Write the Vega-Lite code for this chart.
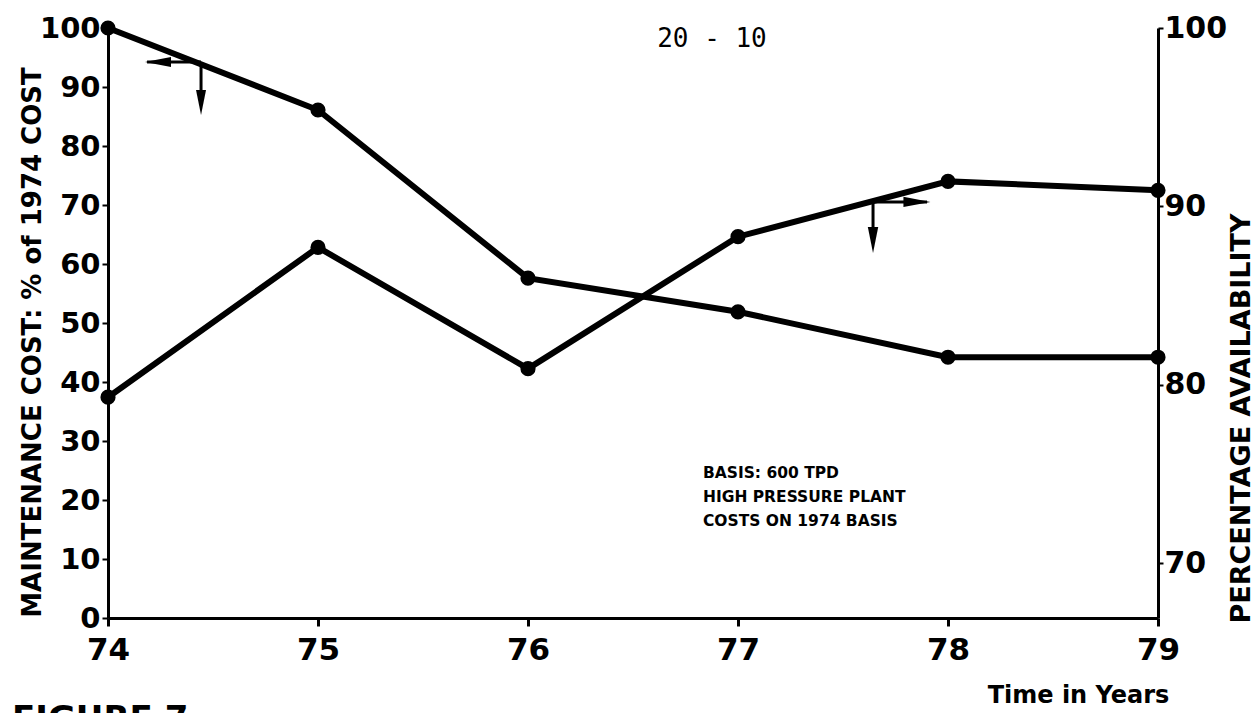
{
  "$schema": "https://vega.github.io/schema/vega-lite/v6.json",
  "width": 1050,
  "height": 590,
  "autosize": {"type": "none"},
  "padding": {"left": 108, "top": 28, "right": 98, "bottom": 95},
  "background": "white",
  "config": {"view": {"stroke": null}, "font": "DejaVu Sans"},
  "data": {
    "values": [
      {"year": 74, "cost": 100, "avail": 79.3},
      {"year": 75, "cost": 86.1, "avail": 87.7},
      {"year": 76, "cost": 57.6, "avail": 80.9},
      {"year": 77, "cost": 51.9, "avail": 88.3},
      {"year": 78, "cost": 44.2, "avail": 91.4},
      {"year": 79, "cost": 44.2, "avail": 90.9}
    ]
  },
  "layer": [
    {
      "layer": [
        {
          "mark": {"type": "line", "color": "black", "strokeWidth": 6},
          "encoding": {
            "x": {
              "field": "year", "type": "quantitative",
              "scale": {"domain": [74, 79], "nice": false, "zero": false},
              "axis": {
                "values": [74, 75, 76, 77, 78, 79], "format": "d",
                "labelFont": "DejaVu Sans", "labelFontSize": 31, "labelFontWeight": "bold", "labelColor": "black",
                "labelFlush": false, "labelOverlap": false, "labelPadding": 9,
                "tickSize": 8, "tickWidth": 3, "tickColor": "black",
                "domainColor": "black", "domainWidth": 3, "grid": false,
                "title": "Time in Years", "titleFont": "DejaVu Sans", "titleFontSize": 24, "titleFontWeight": "bold", "titleColor": "black",
                "titleX": 970, "titleY": 77, "titleAlign": "center", "titleBaseline": "middle"
              }
            },
            "y": {
              "field": "cost", "type": "quantitative",
              "scale": {"domain": [0, 100], "nice": false, "zero": false},
              "axis": {
                "values": [0, 10, 20, 30, 40, 50, 60, 70, 80, 90, 100],
                "labelFont": "DejaVu Sans", "labelFontSize": 29, "labelFontWeight": "bold", "labelColor": "black",
                "labelFlush": false, "labelOverlap": false, "labelPadding": 2,
                "tickSize": 6, "tickWidth": 2, "tickColor": "black",
                "domainColor": "black", "domainWidth": 3, "grid": false,
                "title": "MAINTENANCE COST: % of 1974 COST", "titleFont": "DejaVu Sans", "titleFontSize": 26, "titleFontWeight": "bold", "titleColor": "black",
                "titleAngle": 270, "titleX": -76, "titleY": 314, "titleAlign": "center", "titleBaseline": "middle"
              }
            }
          }
        },
        {
          "mark": {"type": "point", "filled": true, "color": "black", "size": 230, "opacity": 1},
          "encoding": {
            "x": {"field": "year", "type": "quantitative", "scale": {"domain": [74, 79], "nice": false, "zero": false}},
            "y": {"field": "cost", "type": "quantitative", "scale": {"domain": [0, 100], "nice": false, "zero": false}}
          }
        },
        {
          "data": {"values": [{"note": "20 - 10"}]},
          "mark": {"type": "text", "font": "DejaVu Sans Mono", "fontSize": 26, "color": "black", "align": "center", "baseline": "middle"},
          "encoding": {
            "text": {"field": "note"},
            "x": {"datum": 76.876, "type": "quantitative", "scale": {"domain": [74, 79], "nice": false, "zero": false}},
            "y": {"datum": 98.1, "type": "quantitative", "scale": {"domain": [0, 100], "nice": false, "zero": false}}
          }
        },
        {
          "data": {"values": [{"l1": "BASIS: 600 TPD", "l2": "HIGH PRESSURE PLANT", "l3": "COSTS ON 1974 BASIS"}]},
          "mark": {"type": "text", "font": "DejaVu Sans", "fontSize": 15.5, "fontWeight": "bold", "color": "black", "align": "left", "baseline": "top", "lineHeight": 24},
          "encoding": {
            "text": {"value": ["BASIS: 600 TPD", "HIGH PRESSURE PLANT", "COSTS ON 1974 BASIS"]},
            "x": {"datum": 76.833, "type": "quantitative", "scale": {"domain": [74, 79], "nice": false, "zero": false}},
            "y": {"datum": 25.8, "type": "quantitative", "scale": {"domain": [0, 100], "nice": false, "zero": false}}
          }
        },
        {
          "data": {"values": [{"note": "FIGURE 7"}]},
          "mark": {"type": "text", "font": "DejaVu Sans", "fontSize": 34, "fontWeight": "bold", "color": "black", "align": "left", "baseline": "top"},
          "encoding": {
            "text": {"field": "note"},
            "x": {"datum": 73.543, "type": "quantitative", "scale": {"domain": [74, 79], "nice": false, "zero": false}},
            "y": {"datum": -14.4, "type": "quantitative", "scale": {"domain": [0, 100], "nice": false, "zero": false}}
          }
        },
        {
          "data": {"values": [{"a": "h1"}]},
          "mark": {"type": "rule", "color": "black", "strokeWidth": 3},
          "encoding": {
            "x": {"datum": 74.186, "type": "quantitative", "scale": {"domain": [74, 79], "nice": false, "zero": false}},
            "x2": {"datum": 74.443},
            "y": {"datum": 94.24, "type": "quantitative", "scale": {"domain": [0, 100], "nice": false, "zero": false}}
          }
        },
        {
          "data": {"values": [{"a": "v1"}]},
          "mark": {"type": "rule", "color": "black", "strokeWidth": 3},
          "encoding": {
            "x": {"datum": 74.443, "type": "quantitative", "scale": {"domain": [74, 79], "nice": false, "zero": false}},
            "y": {"datum": 94.24, "type": "quantitative", "scale": {"domain": [0, 100], "nice": false, "zero": false}},
            "y2": {"datum": 88.0}
          }
        },
        {
          "data": {"values": [{"a": "h2"}]},
          "mark": {"type": "rule", "color": "black", "strokeWidth": 3},
          "encoding": {
            "x": {"datum": 77.643, "type": "quantitative", "scale": {"domain": [74, 79], "nice": false, "zero": false}},
            "x2": {"datum": 77.9},
            "y": {"datum": 70.51, "type": "quantitative", "scale": {"domain": [0, 100], "nice": false, "zero": false}}
          }
        },
        {
          "data": {"values": [{"a": "v2"}]},
          "mark": {"type": "rule", "color": "black", "strokeWidth": 3},
          "encoding": {
            "x": {"datum": 77.643, "type": "quantitative", "scale": {"domain": [74, 79], "nice": false, "zero": false}},
            "y": {"datum": 70.51, "type": "quantitative", "scale": {"domain": [0, 100], "nice": false, "zero": false}},
            "y2": {"datum": 65.5}
          }
        },
        {
          "data": {"values": [{"a": "headL"}]},
          "mark": {"type": "point", "shape": "M1,-0.38L1,0.38L-1,0Z", "filled": true, "color": "black", "size": 676, "opacity": 1},
          "encoding": {
            "x": {"datum": 74.238, "type": "quantitative", "scale": {"domain": [74, 79], "nice": false, "zero": false}},
            "y": {"datum": 94.24, "type": "quantitative", "scale": {"domain": [0, 100], "nice": false, "zero": false}}
          }
        },
        {
          "data": {"values": [{"a": "headD1"}]},
          "mark": {"type": "point", "shape": "M-0.4,-1L0.4,-1L0,1Z", "filled": true, "color": "black", "size": 625, "opacity": 1},
          "encoding": {
            "x": {"datum": 74.443, "type": "quantitative", "scale": {"domain": [74, 79], "nice": false, "zero": false}},
            "y": {"datum": 87.37, "type": "quantitative", "scale": {"domain": [0, 100], "nice": false, "zero": false}}
          }
        },
        {
          "data": {"values": [{"a": "headR"}]},
          "mark": {"type": "point", "shape": "M-1,-0.38L-1,0.38L1,0Z", "filled": true, "color": "black", "size": 729, "opacity": 1},
          "encoding": {
            "x": {"datum": 77.852, "type": "quantitative", "scale": {"domain": [74, 79], "nice": false, "zero": false}},
            "y": {"datum": 70.51, "type": "quantitative", "scale": {"domain": [0, 100], "nice": false, "zero": false}}
          }
        },
        {
          "data": {"values": [{"a": "headD2"}]},
          "mark": {"type": "point", "shape": "M-0.4,-1L0.4,-1L0,1Z", "filled": true, "color": "black", "size": 676, "opacity": 1},
          "encoding": {
            "x": {"datum": 77.643, "type": "quantitative", "scale": {"domain": [74, 79], "nice": false, "zero": false}},
            "y": {"datum": 64.07, "type": "quantitative", "scale": {"domain": [0, 100], "nice": false, "zero": false}}
          }
        }
      ]
    },
    {
      "layer": [
        {
          "mark": {"type": "line", "color": "black", "strokeWidth": 6},
          "encoding": {
            "x": {"field": "year", "type": "quantitative", "scale": {"domain": [74, 79], "nice": false, "zero": false}},
            "y": {
              "field": "avail", "type": "quantitative",
              "scale": {"domain": [66.92, 100], "nice": false, "zero": false},
              "axis": {
                "orient": "right",
                "values": [70, 80, 90, 100],
                "labelFont": "DejaVu Sans", "labelFontSize": 30, "labelFontWeight": "bold", "labelColor": "black",
                "labelFlush": false, "labelOverlap": false, "labelPadding": 1,
                "tickSize": 5, "tickWidth": 2, "tickColor": "black",
                "domainColor": "black", "domainWidth": 3, "grid": false,
                "title": "PERCENTAGE AVAILABILITY", "titleFont": "DejaVu Sans", "titleFontSize": 27, "titleFontWeight": "bold", "titleColor": "black",
                "titleAngle": 270, "titleX": 83, "titleY": 390, "titleAlign": "center", "titleBaseline": "middle"
              }
            }
          }
        },
        {
          "mark": {"type": "point", "filled": true, "color": "black", "size": 230, "opacity": 1},
          "encoding": {
            "x": {"field": "year", "type": "quantitative", "scale": {"domain": [74, 79], "nice": false, "zero": false}},
            "y": {"field": "avail", "type": "quantitative", "scale": {"domain": [66.92, 100], "nice": false, "zero": false}}
          }
        }
      ]
    }
  ],
  "resolve": {"scale": {"y": "independent"}}
}
